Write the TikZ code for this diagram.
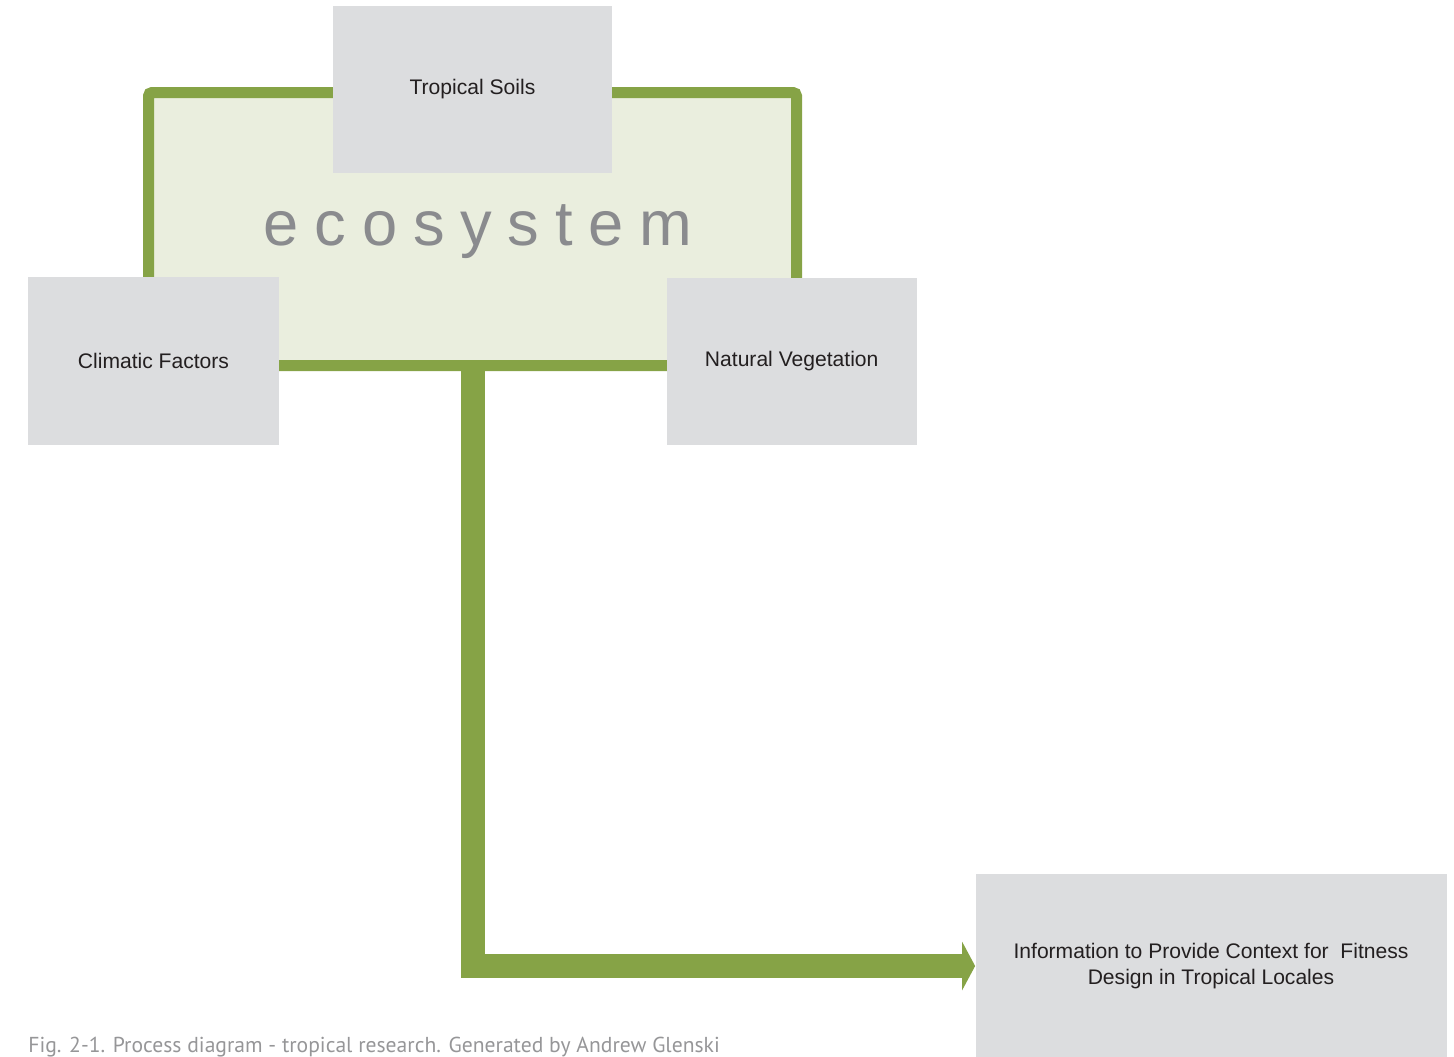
\documentclass[tikz,border=0pt]{standalone}
\usepackage{fontspec}
\setmainfont{Liberation Sans}
\newfontfamily\ecofont[LetterSpace=25]{Liberation Sans}
\newfontfamily\capfont{PT Sans}
\usetikzlibrary{arrows.meta,positioning}

\definecolor{leaf}{RGB}{134,163,70}
\definecolor{leaflight}{RGB}{234,238,222}
\definecolor{boxgray}{RGB}{220,221,223}
\definecolor{inkgray}{RGB}{35,31,32}
\definecolor{ecogray}{RGB}{138,139,142}
\definecolor{capgray}{RGB}{150,150,152}

\newcommand\px{0.02cm}

\begin{document}
\begin{tikzpicture}[x=\px, y=-\px,
    topic/.style={rectangle, fill=boxgray, inner sep=0pt, text=inkgray,
        align=center, font=\fontsize{12}{14.7}\selectfont},
    frame/.style={rectangle, draw=leaf, fill=leaflight, line width=11*\px,
        rounded corners=2pt, inner sep=0pt},
    flow/.style={draw=leaf, line width=24*\px, line join=miter,
        -{Triangle[length=13*\px, width=48*\px]}}]
    \useasboundingbox (0,0) rectangle (1454,1056);

    % the ecosystem frame
    \node (eco) [frame, minimum width=648*\px, minimum height=273*\px] at (472.5,229) {};
    \node (ecolabel) [anchor=base, text=ecogray, font=\ecofont\fontsize{36}{40}\selectfont] at (478,245) {ecosystem};

    % the four topics
    \node (info) [topic, minimum width=471*\px, minimum height=184*\px] at (1211,966)
        {Information to Provide Context for \ Fitness\\ Design in Tropical Locales};
    \draw [flow] ([yshift=3*\px]eco.south) |- (info.west);
    \node (soils) [topic, minimum width=279*\px, minimum height=167*\px] at (472.5,89.5) {Tropical Soils};
    \node (climate) [topic, minimum width=251*\px, minimum height=168*\px] at (153.5,361) {Climatic Factors};
    \node (veg) [topic, minimum width=250*\px, minimum height=167*\px] at (791.7,361) {Natural Vegetation};

    \node (caption) [anchor=base west, inner sep=0pt, text=capgray, font=\capfont\fontsize{12.3}{14}\selectfont] at (28,1052)
        {Fig. 2-1. Process diagram - tropical research. Generated by Andrew Glenski};
\end{tikzpicture}
\end{document}
